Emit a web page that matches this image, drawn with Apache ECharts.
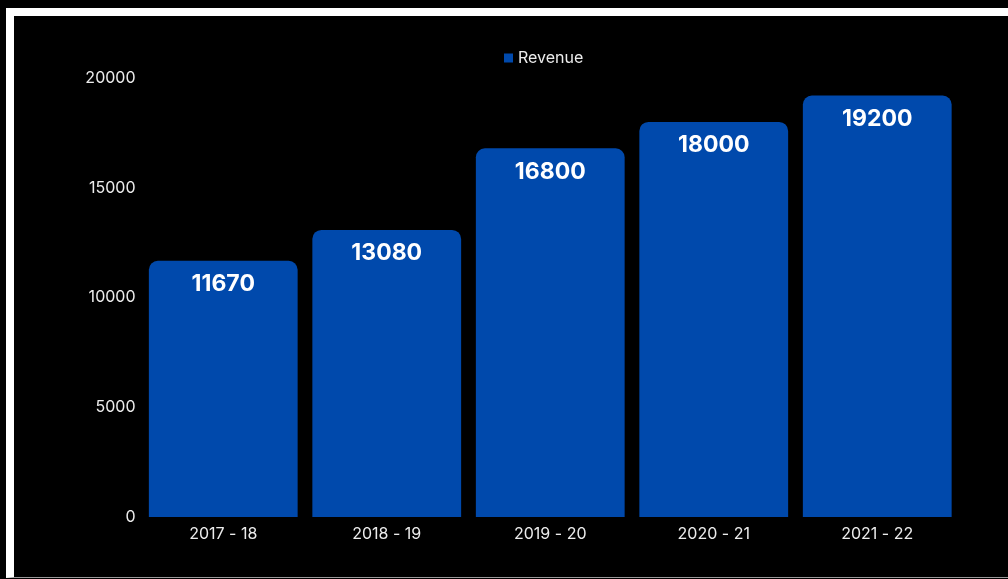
<!DOCTYPE html>
<html>
<head>
<meta charset="utf-8">
<title>Revenue</title>
<script src="https://cdn.jsdelivr.net/npm/echarts@6/dist/echarts.min.js"></script>
<style>
  html, body { margin: 0; padding: 0; background: #000; width: 1008px; height: 579px; overflow: hidden; }
  #frame {
    position: absolute; left: 6px; top: 8px; width: 1002px; height: 570px;
    box-sizing: border-box; border-top: 8px solid #fff; border-left: 8px solid #fff;
    border-bottom: 1px solid #9a9a9a; background: #000;
  }
  #chart { position: absolute; left: 0; top: 0; width: 1008px; height: 579px; }
</style>
</head>
<body>
<div id="frame"></div>
<div id="chart"></div>
<script>
// Yearly revenue by financial year
const categories = ['2017 - 18', '2018 - 19', '2019 - 20', '2020 - 21', '2021 - 22'];
const revenue = [11670, 13080, 16800, 18000, 19200];
const yTicks = [0, 5000, 10000, 15000, 20000];

const FONT = 'Inter, "Noto Sans", sans-serif';
const BAR_COLOR = '#0049AC';

const chart = echarts.init(document.getElementById('chart'), null, { renderer: 'canvas' });
chart.setOption({
  backgroundColor: 'transparent',
  animation: false,
  textStyle: { fontFamily: FONT },
  legend: {
    data: ['Revenue'],
    left: 499,
    top: 45,
    icon: 'rect',
    itemWidth: 9,
    itemHeight: 9,
    textStyle: { color: '#ececec', fontSize: 16, fontFamily: FONT }
  },
  grid: { left: 141.5, right: 49, top: 78, bottom: 62, containLabel: false },
  xAxis: {
    type: 'category',
    data: categories,
    axisLine: { show: false },
    axisTick: { show: false },
    axisLabel: { color: '#ececec', fontSize: 16, margin: 9, fontFamily: FONT }
  },
  yAxis: {
    type: 'value',
    min: yTicks[0],
    max: yTicks[yTicks.length - 1],
    interval: yTicks[1] - yTicks[0],
    splitLine: { show: false },
    axisLine: { show: false },
    axisTick: { show: false },
    axisLabel: {
      color: '#ececec', fontSize: 16, margin: 6, fontFamily: FONT,
      formatter: (v) => String(v)
    }
  },
  series: [{
    name: 'Revenue',
    type: 'bar',
    data: revenue,
    barCategoryGap: '9%',
    itemStyle: { color: BAR_COLOR, borderRadius: [9, 9, 0, 0] },
    label: {
      show: true,
      position: 'insideTop',
      distance: 12,
      color: '#fff',
      fontSize: 23,
      fontWeight: 'bold',
      fontFamily: FONT
    }
  }]
});
</script>
</body>
</html>
